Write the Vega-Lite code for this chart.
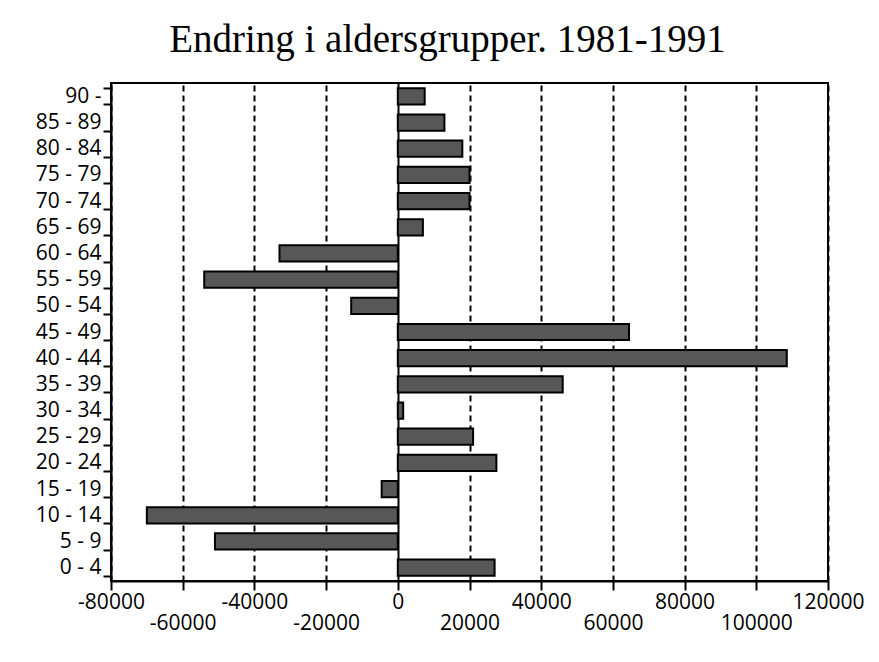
{
  "$schema": "https://vega.github.io/schema/vega-lite/v6.json",
  "autosize": {"type": "none"},
  "padding": {"left": 111, "top": 83, "right": 51, "bottom": 81},
  "width": 717,
  "height": 498,
  "background": "white",
  "title": {
    "text": "Endring i aldersgrupper. 1981-1991",
    "font": "Liberation Serif",
    "fontSize": 39,
    "fontWeight": "normal",
    "color": "black",
    "anchor": "middle",
    "dx": -22,
    "offset": 12
  },
  "data": {
    "values": [
      {"group": "90 -", "change": 7500},
      {"group": "85 - 89", "change": 13000},
      {"group": "80 - 84", "change": 18000},
      {"group": "75 - 79", "change": 20000},
      {"group": "70 - 74", "change": 20000},
      {"group": "65 - 69", "change": 7000},
      {"group": "60 - 64", "change": -33000},
      {"group": "55 - 59", "change": -54000},
      {"group": "50 - 54", "change": -13000},
      {"group": "45 - 49", "change": 64500},
      {"group": "40 - 44", "change": 108500},
      {"group": "35 - 39", "change": 46000},
      {"group": "30 - 34", "change": 1500},
      {"group": "25 - 29", "change": 21000},
      {"group": "20 - 24", "change": 27500},
      {"group": "15 - 19", "change": -4500},
      {"group": "10 - 14", "change": -70000},
      {"group": "5 - 9", "change": -51000},
      {"group": "0 - 4", "change": 27000}
    ]
  },
  "mark": {"type": "bar", "fill": "#575757", "stroke": "black", "strokeWidth": 2},
  "encoding": {
    "y": {
      "field": "group",
      "type": "nominal",
      "sort": null,
      "title": null,
      "scale": {"paddingInner": 0.38, "paddingOuter": 0.2},
      "axis": {
        "labelFont": "Open Sans",
        "labelFontSize": 21,
        "labelColor": "black",
        "labelPadding": 2,
        "tickBand": "extent",
        "tickSize": 8,
        "tickWidth": 2,
        "tickColor": "black",
        "domainColor": "black",
        "domainWidth": 2
      }
    },
    "x": {
      "field": "change",
      "type": "quantitative",
      "title": null,
      "scale": {"domain": [-80000, 120000], "nice": false},
      "axis": {
        "values": [-80000, -60000, -40000, -20000, 0, 20000, 40000, 60000, 80000, 100000, 120000],
        "labelExpr": "datum.value % 40000 === 0 ? '' + datum.value : ['', '' + datum.value]",
        "labelLineHeight": 21,
        "labelBaseline": "top",
        "labelFont": "Open Sans",
        "labelFontSize": 21,
        "labelColor": "black",
        "labelPadding": 1,
        "labelOverlap": false,
        "labelFlush": false,
        "labelBound": false,
        "tickSize": 9,
        "tickWidth": 2,
        "tickColor": "black",
        "domainColor": "black",
        "domainWidth": 2,
        "grid": true,
        "gridColor": "black",
        "gridWidth": 2,
        "gridDash": {"condition": {"test": "datum.value === 0", "value": []}, "value": [6, 4]}
      }
    }
  },
  "config": {
    "view": {"stroke": "black", "strokeWidth": 2},
    "axis": {"zindex": 0}
  }
}
